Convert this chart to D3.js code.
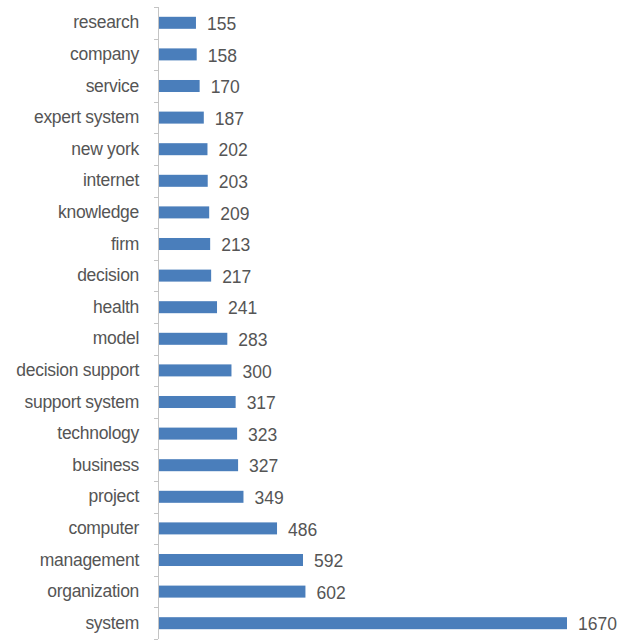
<!DOCTYPE html>
<html><head><meta charset="utf-8">
<script src="https://cdn.jsdelivr.net/npm/d3@7"></script>
<style>body{margin:0;background:#fff}</style>
</head><body>
<svg id="c" width="620" height="640"></svg>
<script>
const categories = ["research","company","service","expert system","new york","internet","knowledge","firm","decision","health","model","decision support","support system","technology","business","project","computer","management","organization","system"];
const values = [155,158,170,187,202,203,209,213,217,241,283,300,317,323,327,349,486,592,602,1670];

(function(){
const svg = d3.select("#c");
const mLeft = 158, mTop = 7, mBottom = 639;
const x = d3.scaleLinear().domain([0, 1670]).range([mLeft, 567]);
const y = d3.scaleBand().domain(categories).range([mTop, mBottom]).paddingInner(0.62).paddingOuter(0.31);
const font = "'Liberation Sans',Arial,sans-serif";

svg.selectAll("rect.bar").data(categories).join("rect")
  .attr("class","bar")
  .attr("x", x(0)+1).attr("y", d => y(d))
  .attr("width", (d,i) => x(values[i]) - x(0) - 1)
  .attr("height", y.bandwidth())
  .attr("fill", "#4a7ebb");

const yb = d3.scaleLinear().domain([0, categories.length]).range([mTop, mBottom]);
svg.append("line").attr("x1", mLeft+0.5).attr("x2", mLeft+0.5).attr("y1", mTop).attr("y2", mBottom)
  .attr("stroke", "#c4c4c4").attr("stroke-width", 1);
svg.selectAll("line.tk").data(d3.range(categories.length+1)).join("line")
  .attr("class","tk")
  .attr("x1", mLeft-4).attr("x2", mLeft).attr("y1", d => Math.round(yb(d))+0.5).attr("y2", d => Math.round(yb(d))+0.5)
  .attr("stroke", "#c4c4c4");

svg.selectAll("text.lab").data(categories).join("text")
  .attr("class","lab")
  .attr("x", 139).attr("y", d => y(d) + y.bandwidth()/2 - 0.5)
  .attr("dy", "0.35em").attr("text-anchor", "end")
  .attr("font-family", font).attr("font-size", 17.5).attr("fill", "#555")
  .attr("letter-spacing", "-0.3px")
  .text(d => d);

svg.selectAll("text.val").data(categories).join("text")
  .attr("class","val")
  .attr("x", (d,i) => x(values[i]) + 11).attr("y", d => y(d) + y.bandwidth()/2 + 1)
  .attr("dy", "0.35em")
  .attr("font-family", font).attr("font-size", 17.5).attr("fill", "#555")
  .text((d,i) => values[i]);
})();
</script>
</body></html>
